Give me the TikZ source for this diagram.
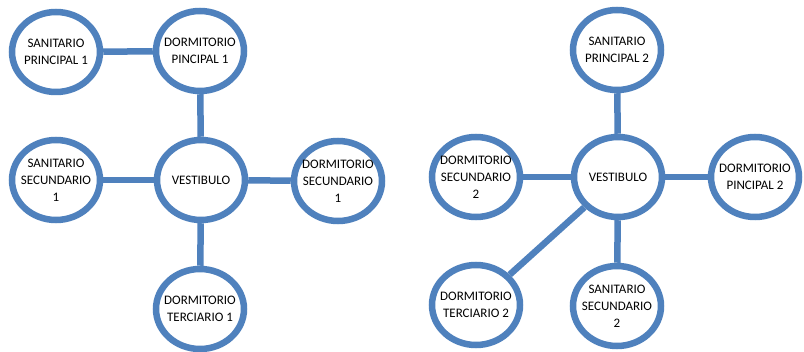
\documentclass[tikz,border=0pt]{standalone}
\usepackage{fontspec}
\setmainfont{Carlito}
\usetikzlibrary{shapes.geometric}
\definecolor{ofblue}{HTML}{4F81BD}
\begin{document}
\begin{tikzpicture}[x=1pt,y=-1pt,
  room/.style={ellipse,draw=ofblue,line width=6.5pt,fill=white,inner sep=0pt,
    minimum width=88pt,minimum height=80pt,
    label={[align=center,inner sep=0pt,font=\fontsize{13}{17}\selectfont]center:#1}},
  link/.style={draw=ofblue,line width=6.5pt}]
\useasboundingbox[fill=white] (0,0) rectangle (804,352);
% left graph
\node[room={SANITARIO\\PRINCIPAL 1}] (sp1) at (56,52) {};
\node[room={DORMITORIO\\PINCIPAL 1}] (dp1) at (200,51) {};
\node[room={VESTIBULO}] (v1) at (201,180) {};
\node[room={SANITARIO\\SECUNDARIO\\1}] (ss1) at (56,180) {};
\node[room={DORMITORIO\\SECUNDARIO\\1}] (ds1) at (338,181) {};
\node[room={DORMITORIO\\TERCIARIO 1}] (dt1) at (200,309) {};
\draw[link] (sp1) -- (dp1);
\draw[link] (dp1) -- (v1);
\draw[link] (ss1) -- (v1);
\draw[link] (v1) -- (ds1);
\draw[link] (v1) -- (dt1);
% right graph
\node[room={SANITARIO\\PRINCIPAL 2}] (sp2) at (617,50) {};
\node[room={VESTIBULO}] (v2) at (618,177) {};
\node[room={DORMITORIO\\SECUNDARIO\\2}] (ds2) at (476,177) {};
\node[room={DORMITORIO\\PINCIPAL 2}] (dp2) at (755,177) {};
\node[room={DORMITORIO\\TERCIARIO 2}] (dt2) at (476,305) {};
\node[room={SANITARIO\\SECUNDARIO\\2}] (ss2) at (617,306) {};
\draw[link] (sp2) -- (v2);
\draw[link] (ds2) -- (v2);
\draw[link] (v2) -- (dp2);
\draw[link] (v2) -- (dt2);
\draw[link] (v2) -- (ss2);
\end{tikzpicture}
\end{document}
